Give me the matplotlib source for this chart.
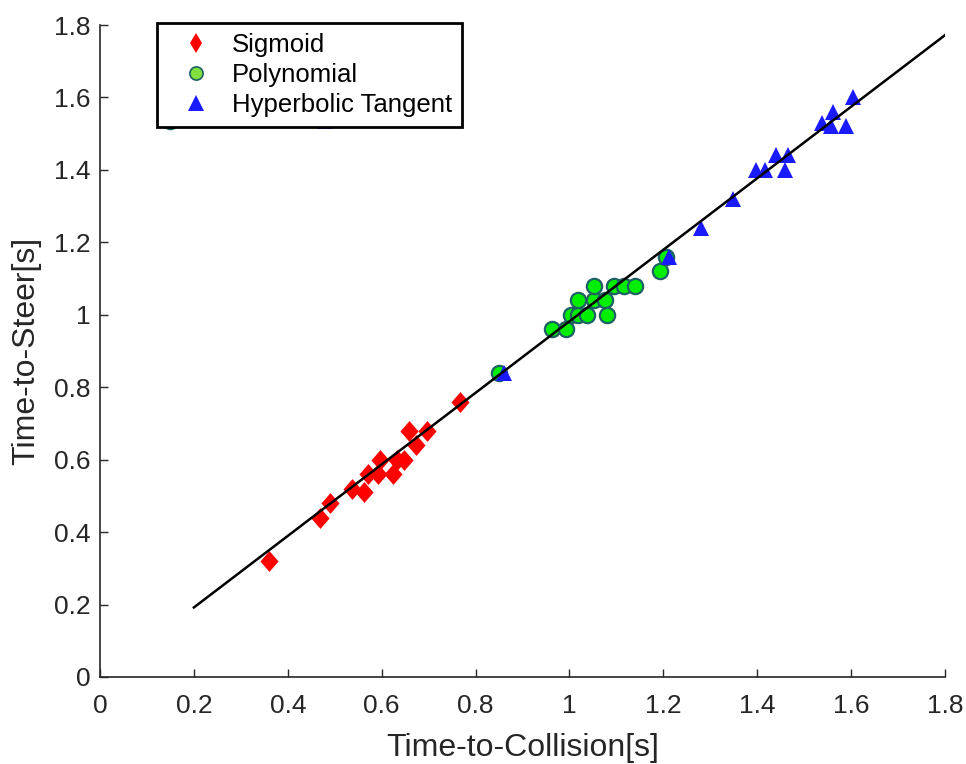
import matplotlib
matplotlib.use('Agg')
import matplotlib.pyplot as plt

plt.rcParams['font.family'] = ['Liberation Sans', 'DejaVu Sans']

# Data
sig_x = [0.36, 0.469, 0.491, 0.536, 0.562, 0.570, 0.593, 0.597, 0.625, 0.632, 0.648, 0.659, 0.673, 0.696, 0.767]
sig_y = [0.32, 0.44, 0.48, 0.52, 0.51, 0.56, 0.56, 0.60, 0.56, 0.60, 0.60, 0.68, 0.64, 0.68, 0.76]

poly_x = [0.85, 0.963, 0.992, 1.003, 1.018, 1.037, 1.018, 1.053, 1.075, 1.081,
          1.052, 1.095, 1.116, 1.140, 1.192, 1.205, 0.15]
poly_y = [0.84, 0.96, 0.96, 1.00, 1.00, 1.00, 1.04, 1.04, 1.04, 1.00,
          1.08, 1.08, 1.08, 1.08, 1.12, 1.16, 1.535]

tanh_x = [0.86, 1.212, 1.28, 1.348, 1.397, 1.417, 1.44, 1.459, 1.466, 1.537, 1.558, 1.562, 1.59, 1.605, 0.48]
tanh_y = [0.84, 1.16, 1.24, 1.32, 1.40, 1.40, 1.44, 1.40, 1.44, 1.53, 1.52, 1.56, 1.52, 1.60, 1.535]

fit_x = [0.2, 1.8]
fit_y = [0.192, 1.772]

ticks = [0, 0.2, 0.4, 0.6, 0.8, 1, 1.2, 1.4, 1.6, 1.8]
tick_labels = ['0', '0.2', '0.4', '0.6', '0.8', '1', '1.2', '1.4', '1.6', '1.8']

# slightly tall diamond like the MATLAB one
diamond = [(0, 1), (0.87, 0), (0, -1), (-0.87, 0)]

fig = plt.figure(figsize=(9.66, 7.64), dpi=100)
ax = fig.add_axes([100 / 966, 1 - 677 / 764, 845 / 966, 652 / 764])

ax.plot(sig_x, sig_y, linestyle='none', marker=diamond, markersize=15,
        color='#ff0000', markeredgewidth=0, label='Sigmoid')
ax.plot(poly_x, poly_y, linestyle='none', marker='o', markersize=11,
        markerfacecolor='#00ee00', markeredgecolor='#1d6262', markeredgewidth=1.6,
        label='Polynomial')
ax.plot(tanh_x, tanh_y, linestyle='none', marker='^', markersize=12,
        color='#1a1aff', markeredgewidth=0, label='Hyperbolic Tangent')
ax.plot(fit_x, fit_y, color='black', linewidth=1.8)

ax.set_xlim(0, 1.8)
ax.set_ylim(0, 1.8)
ax.set_xticks(ticks)
ax.set_xticklabels(tick_labels)
ax.set_yticks(ticks)
ax.set_yticklabels(tick_labels)
ax.tick_params(direction='in', length=6, width=1, labelsize=19,
               colors='#262626')
ax.tick_params(axis='x', pad=12)
ax.tick_params(axis='y', pad=7)
for side in ['top', 'right']:
    ax.spines[side].set_visible(False)
for side in ['left', 'bottom']:
    ax.spines[side].set_color('#262626')
    ax.spines[side].set_linewidth(1.2)

ax.set_xlabel('Time-to-Collision[s]', fontsize=23, color='#262626', labelpad=11)
ax.set_ylabel('Time-to-Steer[s]', fontsize=23, color='#262626', labelpad=9)

leg = ax.legend(loc='upper left', bbox_to_anchor=(157 / 966, 1 - 23 / 764),
                bbox_transform=fig.transFigure, fontsize=18.5, frameon=True,
                fancybox=False, edgecolor='black', framealpha=1,
                handlelength=2.2, handletextpad=0.3, borderpad=0.4,
                labelspacing=0.22, borderaxespad=0)
leg.get_frame().set_linewidth(2)
leg.set_zorder(10)
leg.legend_handles[0].set_marker('d')
leg.legend_handles[0].set_markersize(10)
leg.legend_handles[1].set_markersize(9.5)
leg.legend_handles[1].set_markerfacecolor('#80e040')
leg.legend_handles[1].set_markeredgewidth(1.2)

fig.savefig('out.png', dpi=100)
